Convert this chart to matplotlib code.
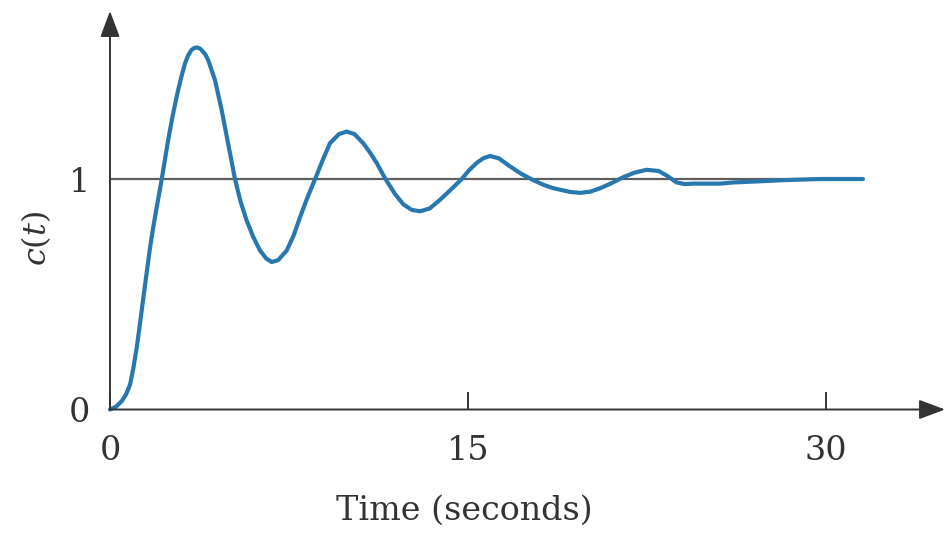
import matplotlib
matplotlib.use('Agg')
from matplotlib import pyplot as plt

# step response
t = [0, 0.25, 0.49, 0.67, 0.84, 0.98, 1.12, 1.26, 1.40, 1.54, 1.68, 1.82, 1.96,
     2.17, 2.44, 2.62, 2.80, 2.97, 3.14, 3.27, 3.40, 3.52, 3.64, 3.76, 3.88,
     4.00, 4.12, 4.40, 4.68, 4.96, 5.24, 5.48, 5.73, 6.00, 6.29, 6.55, 6.78,
     7.05, 7.41, 7.70, 7.97, 8.28, 8.60, 8.91, 9.22, 9.60, 9.92, 10.25, 10.62,
     10.90, 11.18, 11.55, 11.95, 12.30, 12.65, 13.00, 13.40, 13.84, 14.30,
     14.75, 15.07, 15.38, 15.65, 15.93, 16.30, 16.77, 17.25, 17.75, 18.17,
     18.59, 19.29, 19.71, 20.13, 20.55, 21.03, 21.52, 22.00, 22.50, 23.00,
     23.34, 23.76, 24.10, 24.46, 25.58, 26.12, 27.20, 28.22, 29.77, 31.57]
c = [0, 0.012, 0.036, 0.065, 0.108, 0.18, 0.268, 0.375, 0.486, 0.595, 0.704,
     0.795, 0.878, 1.0, 1.17, 1.27, 1.36, 1.435, 1.50, 1.535, 1.558, 1.568,
     1.571, 1.567, 1.555, 1.54, 1.515, 1.43, 1.30, 1.15, 1.0, 0.90, 0.82, 0.75,
     0.69, 0.655, 0.64, 0.648, 0.69, 0.755, 0.835, 0.92, 1.0, 1.08, 1.155,
     1.195, 1.206, 1.195, 1.155, 1.115, 1.07, 1.0, 0.935, 0.89, 0.866, 0.86,
     0.872, 0.91, 0.955, 1.0, 1.04, 1.07, 1.09, 1.10, 1.09, 1.055, 1.022,
     0.995, 0.975, 0.96, 0.944, 0.94, 0.945, 0.96, 0.982, 1.008, 1.028, 1.04,
     1.035, 1.015, 0.985, 0.978, 0.98, 0.98, 0.985, 0.99, 0.995, 1.0, 1.0]

x_ticks = [0, 15, 30]
x_labels = ['0', '15', '30']
y_ticks = [0, 1]
y_labels = ['0', '1']
setpoint = 1
t_end = 31.57

plt.rcParams['font.family'] = ['DejaVu Serif']
plt.rcParams['mathtext.fontset'] = 'dejavuserif'

ink = '#333333'
fig = plt.figure(figsize=(9.5, 5.36), dpi=100)
ax = fig.add_axes([110 / 950, 126.5 / 536, 835 / 950, 398.5 / 536])
xmax, ymax = 35.01, 1.729
ax.set_xlim(0, xmax)
ax.set_ylim(0, ymax)

ax.plot([0, t_end], [setpoint, setpoint], color='#5e5e5e', lw=1.6, zorder=2)
ax.plot(t, c, color='#2878b0', lw=3.0, zorder=3, solid_joinstyle='round',
        solid_capstyle='round', clip_on=False)

for s in ax.spines.values():
    s.set_visible(False)

arrow = dict(arrowstyle='-|>,head_length=0.8,head_width=0.3', color=ink,
             lw=1.4, mutation_scale=20, shrinkA=0, shrinkB=0)
ax.annotate('', xy=(xmax, 0), xytext=(0, 0), arrowprops=arrow,
            annotation_clip=False)
ax.annotate('', xy=(0, ymax), xytext=(0, 0), arrowprops=arrow,
            annotation_clip=False)

ax.set_xticks(x_ticks)
ax.set_xticklabels(x_labels)
ax.set_yticks(y_ticks)
ax.set_yticklabels(y_labels)
ax.tick_params(axis='x', direction='in', length=13, width=1.4, color=ink,
               pad=18, labelsize=24, labelcolor=ink)
ax.tick_params(axis='y', length=0, pad=14, labelsize=24, labelcolor=ink)

ax.set_xlabel('Time (seconds)', fontsize=24, color=ink)
ax.xaxis.set_label_coords(0.424, -0.213)
ax.set_ylabel('$c(t)$', fontsize=23, color=ink)
ax.yaxis.set_label_coords(-0.068, 0.43)

fig.savefig('out.png', dpi=100)
